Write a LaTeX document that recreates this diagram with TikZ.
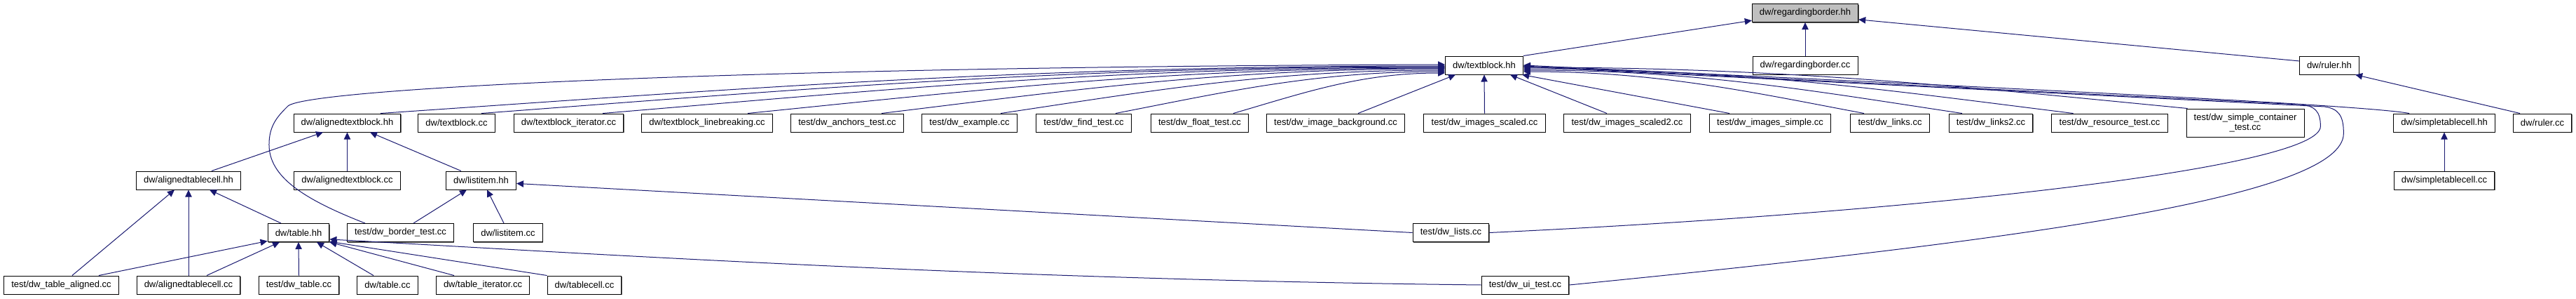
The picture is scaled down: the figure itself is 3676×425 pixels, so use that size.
\documentclass[tikz,border=0pt]{standalone}
\usepackage{fontspec}
\setmainfont{Liberation Sans}
\usetikzlibrary{arrows.meta,shadows}

\definecolor{depblue}{HTML}{191970}
\definecolor{rootgray}{HTML}{BFBFBF}

\tikzset{
  filebox/.style={draw=black, fill=white, line width=0.75pt, rectangle,
    inner xsep=8pt, inner ysep=0pt, minimum height=19.5pt,
    font=\fontsize{9.75}{11}\selectfont,
    general shadow={fill=black!60, shadow xshift=0.6pt, shadow yshift=-0.9pt}},
  rootbox/.style={filebox, fill=rootgray},
  dep/.style={draw=depblue, line width=0.75pt,
    -{Triangle[length=7.5pt,width=7pt]}, color=depblue},
}

\begin{document}
\begin{tikzpicture}[x=0.75pt, y=-0.75pt]
% include graph, coordinates in pixels (y grows downwards)
\useasboundingbox (0,0) rectangle (3676,425);

% Row 0 and 1
\node[rootbox] (rbhh) at (2576,18.5) {dw/regardingborder.hh};
\node[filebox] (tbhh) at (2118,93) {dw/textblock.hh};
\node[filebox] (rbcc) at (2576,93) {dw/regardingborder.cc};
\node[filebox] (rulerhh) at (3324,93) {dw/ruler.hh};

% Row 2
\node[filebox] (atbhh) at (495.5,175) {dw/alignedtextblock.hh};
\node[filebox] (tbcc) at (651.5,175) {dw/textblock.cc};
\node[filebox] (tbitcc) at (811.5,175) {dw/textblock\_iterator.cc};
\node[filebox] (tblbcc) at (1009,175) {dw/textblock\_linebreaking.cc};
\node[filebox] (anchors) at (1209,175) {test/dw\_anchors\_test.cc};
\node[filebox] (example) at (1383.5,175) {test/dw\_example.cc};
\node[filebox] (findt) at (1546.5,175) {test/dw\_find\_test.cc};
\node[filebox] (floatt) at (1712,175) {test/dw\_float\_test.cc};
\node[filebox] (imgbg) at (1906,175) {test/dw\_image\_background.cc};
\node[filebox] (imgsc) at (2118.5,175) {test/dw\_images\_scaled.cc};
\node[filebox] (imgsctwo) at (2322,175) {test/dw\_images\_scaled2.cc};
\node[filebox] (imgsimple) at (2526,175) {test/dw\_images\_simple.cc};
\node[filebox] (links) at (2697,175) {test/dw\_links.cc};
\node[filebox] (linkstwo) at (2841,175) {test/dw\_links2.cc};
\node[filebox] (resource) at (3010.5,175) {test/dw\_resource\_test.cc};
\node[filebox, align=center, minimum height=30pt] (simplecont) at (3204,175)
  {test/dw\_simple\_container\\\_test.cc};
\node[filebox] (stchh) at (3488,175) {dw/simpletablecell.hh};
\node[filebox] (rulercc) at (3628,175) {dw/ruler.cc};

% Row 3
\node[filebox] (atchh) at (269,257) {dw/alignedtablecell.hh};
\node[filebox] (atbcc) at (495.5,257) {dw/alignedtextblock.cc};
\node[filebox] (lihh) at (686.5,257) {dw/listitem.hh};
\node[filebox] (stccc) at (3488,257) {dw/simpletablecell.cc};

% Row 4
\node[filebox] (tblhh) at (426,331.5) {dw/table.hh};
\node[filebox] (bordert) at (571.5,331.5) {test/dw\_border\_test.cc};
\node[filebox] (licc) at (725,331.5) {dw/listitem.cc};
\node[filebox] (lists) at (2070.5,331.5) {test/dw\_lists.cc};

% Row 5
\node[filebox] (tblaligned) at (87.5,406) {test/dw\_table\_aligned.cc};
\node[filebox] (atccc) at (269,406) {dw/alignedtablecell.cc};
\node[filebox] (tbltest) at (426.5,406) {test/dw\_table.cc};
\node[filebox] (tblcc) at (553,406) {dw/table.cc};
\node[filebox] (tblit) at (689,406) {dw/table\_iterator.cc};
\node[filebox] (tcellcc) at (834,406) {dw/tablecell.cc};
\node[filebox] (uitest) at (2176.5,406) {test/dw\_ui\_test.cc};

% into dw/regardingborder.hh
\draw[dep] (tbhh.north east) -- (rbhh.-172);
\draw[dep] (rbcc.north) -- (rbhh.south);
\draw[dep] (rulerhh.172) -- (rbhh.-7);
\draw[dep] ([xshift=-24pt]rulercc.north) -- (rulerhh.-20);

% into dw/textblock.hh, from the left
\draw[dep] ([xshift=-37.9pt]bordert.north) .. controls +(-90,-35) and +(0,45) .. ++(-137,-112)
  .. controls +(0,-28) and +(-14,14) .. ++(27,-55)
  .. controls +(30,-25) and +(-1000,3) .. ([yshift=0.75pt]tbhh.west);
\draw[dep] ([xshift=35.6pt]atbhh.north) .. controls +(501,-34) and +(-608,0) .. ([yshift=-0.75pt]tbhh.west);
\draw[dep] ([xshift=26.6pt]tbcc.north) .. controls +(454,-34) and +(-550,0) .. ([yshift=-1.5pt]tbhh.west);
\draw[dep] ([xshift=36.4pt]tbitcc.north) .. controls +(397,-33) and +(-481,0) .. ([yshift=-2.25pt]tbhh.west);
\draw[dep] ([xshift=43.5pt]tblbcc.north) .. controls +(328,-33) and +(-398,0) .. ([yshift=-3pt]tbhh.west);
\draw[dep] ([xshift=36.8pt]anchors.north) .. controls +(265,-32) and +(-322,0) .. ([yshift=-3.75pt]tbhh.west);
\draw[dep] ([xshift=33.4pt]example.north) .. controls +(209,-31) and +(-254,0) .. ([yshift=-5.25pt]tbhh.west);
\draw[dep] ([xshift=34.1pt]findt.north) .. controls +(155,-30) and +(-188,0) .. ([yshift=-6.75pt]tbhh.west);
\draw[dep] ([xshift=36pt]floatt.north) .. controls +(100,-29) and +(-121,0) .. ([yshift=-8.25pt]tbhh.west);

% into dw/textblock.hh, from below
\draw[dep] ([xshift=24pt]imgbg.north) -- ([xshift=-30.75pt]tbhh.south);
\draw[dep] (imgsc.north) -- (tbhh.south);
\draw[dep] ([xshift=-21.75pt]imgsctwo.north) -- ([xshift=27.75pt]tbhh.south);
\draw[dep] ([xshift=-43.5pt]imgsimple.north) -- (tbhh.-14);

% into dw/textblock.hh, from the right
\draw[dep] ([xshift=-27.8pt]links.north) .. controls +(-160,-30) and +(194,0) .. ([yshift=-6.75pt]tbhh.east);
\draw[dep] ([xshift=-30.8pt]linkstwo.north) .. controls +(-207,-31) and +(250,0) .. ([yshift=-5.25pt]tbhh.east);
\draw[dep] ([xshift=-39pt]resource.north) .. controls +(-259,-32) and +(314,0) .. ([yshift=-3.75pt]tbhh.east);
\draw[dep] ([xshift=1.5pt]simplecont.north west) .. controls +(-311,-30) and +(377,0) .. ([yshift=-2.25pt]tbhh.east);
\draw[dep] ([xshift=-37.5pt]stchh.north) .. controls +(-78,-14) and +(526,25) .. (tbhh.east);
\draw[dep] (lists.east) .. controls +(600,-28) and +(0,60) .. ++(1186,-151.5)
  .. controls +(0,-22) and +(18,2) .. ++(-27,-31) -- ([yshift=-0.75pt]tbhh.east);
\draw[dep] (uitest.east) .. controls +(650,-64) and +(0,90) .. ++(1105,-216)
  .. controls +(0,-25) and +(20,3) .. ++(-27,-38) -- ([yshift=-1.5pt]tbhh.east);

% dw/ruler.hh and dw/simpletablecell.hh
\draw[dep] (stccc.north) -- (stchh.south);

% into dw/alignedtextblock.hh
\draw[dep] ([xshift=24.75pt]atchh.north) -- ([xshift=-25.9pt]atbhh.south);
\draw[dep] (atbcc.north) -- (atbhh.south);
\draw[dep] ([xshift=-21.4pt]lihh.north) -- ([xshift=24.4pt]atbhh.south);

% into dw/alignedtablecell.hh
\draw[dep] ([xshift=11.6pt]tblaligned.north) -- ([xshift=-15pt]atchh.south);
\draw[dep] (atccc.north) -- (atchh.south);
\draw[dep] ([xshift=-18.75pt]tblhh.north) -- ([xshift=22.5pt]atchh.south);

% into dw/listitem.hh
\draw[dep] ([xshift=13.9pt]bordert.north) -- ([xshift=-15.4pt]lihh.south);
\draw[dep] ([xshift=-4.5pt]licc.north) -- ([xshift=6.4pt]lihh.south);
\draw[dep] (lists.west) -- (lihh.-5.5);

% into dw/table.hh
\draw[dep] ([xshift=40.1pt]tblaligned.north) -- (tblhh.195);
\draw[dep] ([xshift=19.5pt]atccc.north) -- ([xshift=-20.25pt]tblhh.south);
\draw[dep] (tbltest.north) -- (tblhh.south);
\draw[dep] ([xshift=-15pt]tblcc.north) -- ([xshift=19.5pt]tblhh.south);
\draw[dep] ([xshift=-30.75pt]tblit.north) -- (tblhh.south east);
\draw[dep] (tcellcc.north west) -- (tblhh.-16);
\draw[dep] (uitest.west) .. controls +(-700,-8) and +(400,22) .. (tblhh.-12);
\end{tikzpicture}
\end{document}
